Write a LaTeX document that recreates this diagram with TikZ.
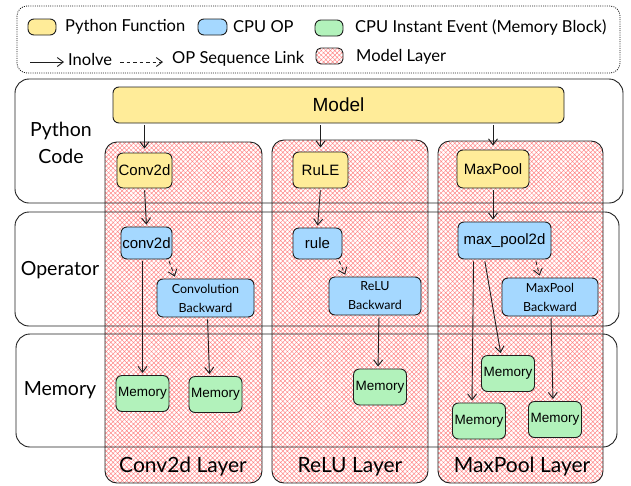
\documentclass[tikz,border=0pt]{standalone}
\usepackage{fontspec}
\setmainfont{Lato}
\newfontfamily\arialfont{Liberation Sans}
\usetikzlibrary{arrows.meta,patterns.meta}

\definecolor{fnyellow}{HTML}{FFEC99}
\definecolor{opblue}{HTML}{A5D8FF}
\definecolor{memgreen}{HTML}{B2F2BB}
\definecolor{hatchred}{HTML}{FF8787}
\definecolor{inkgray}{HTML}{1E1E1E}

\tikzset{
  nodebox/.style={draw=inkgray, line width=0.9pt, rounded corners=6pt, inner sep=0pt, align=center},
  pyfn/.style={nodebox, fill=fnyellow, font=\arialfont\fontsize{15}{16}\selectfont},
  cpuop/.style={nodebox, fill=opblue, font=\arialfont\fontsize{15}{16}\selectfont},
  bwop/.style={nodebox, fill=opblue, font=\fontsize{12.5}{19}\selectfont},
  mem/.style={nodebox, fill=memgreen, font=\arialfont\fontsize{13.5}{14}\selectfont,
    minimum width=53pt, minimum height=36pt},
  lane/.style={draw=inkgray, line width=0.9pt, rounded corners=14pt},
  layercol/.style={draw=inkgray, line width=0.9pt, rounded corners=12pt,
    pattern={Hatch[angle=45,distance=3.2pt,line width=0.5pt]}, pattern color=hatchred},
  lanetext/.style={font=\fontsize{19.5}{27}\selectfont, align=center},
  layertext/.style={font=\fontsize{21}{24}\selectfont},
  legtext/.style={font=\fontsize{16.5}{18}\selectfont, anchor=west, inner sep=0pt},
  call/.style={-{Straight Barb[length=6pt,width=9pt]}, draw=inkgray, line width=0.9pt,
    shorten >=2pt, shorten <=2pt},
  seq/.style={call, dash pattern=on 3.5pt off 3pt},
}

\begin{document}
\begin{tikzpicture}[x=1pt, y=-1pt]
    \useasboundingbox (0,0) rectangle (631,485);

    % Legend
    \draw[draw=inkgray, line width=0.8pt, dash pattern=on 1pt off 1.2pt, rounded corners=10pt]
        (17,6) rectangle (620,73);
    \draw[nodebox, fill=fnyellow] (28,19) rectangle (56,35);
    \node[legtext] (lgfn) at (65,27) {Python Function};
    \draw[nodebox, fill=opblue] (198,19) rectangle (227,35);
    \node[legtext] (lgop) at (233,27) {CPU OP};
    \draw[nodebox, fill=memgreen] (315,20) rectangle (343,36);
    \node[legtext] (lgmem) at (355,28) {CPU Instant Event (Memory Block)};
    \coordinate (lgcallA) at (30,62);
    \coordinate (lgcallB) at (64,62);
    \draw[call, shorten >=0pt, shorten <=0pt] (lgcallA) -- (lgcallB);
    \node[legtext] (lgcall) at (68,59) {Inolve};
    \coordinate (lgseqA) at (120,62);
    \coordinate (lgseqB) at (163,62);
    \draw[seq, shorten >=0pt, shorten <=0pt] (lgseqA) -- (lgseqB);
    \node[legtext] (lgseq) at (172,59) {OP Sequence Link};
    \draw[layercol, rounded corners=5pt] (316,48) rectangle (343,64);
    \node[legtext] (lglayer) at (356,57) {Model Layer};

    % Model layers
    \draw[layercol] (105,142) rectangle (262,483);
    \draw[layercol] (272,140) rectangle (428,483);
    \draw[layercol] (438,141) rectangle (603,483);
    \node[layertext] (convlayer) at (183,467) {Conv2d Layer};
    \node[layertext] (relulayer) at (350,467) {ReLU Layer};
    \node[layertext] (poollayer) at (522,467) {MaxPool Layer};

    % Lanes
    \draw[lane] (15,79) rectangle (623,203);
    \draw[lane] (15,212) rectangle (619,326);
    \draw[lane] (16,334) rectangle (617,447);
    \node[lanetext] (pylabel) at (61,143) {Python\\Code};
    \node[lanetext] (oplabel) at (60,270) {Operator};
    \node[lanetext] (memlabel) at (60,390) {Memory};

    % Python code
    \node[pyfn, font=\arialfont\fontsize{19}{20}\selectfont, minimum width=451pt, minimum height=36pt]
        (model) at (338.5,105) {Model};
    \node[pyfn, minimum width=55pt, minimum height=35pt] (convfn) at (144.5,170.5) {Conv2d};
    \node[pyfn, minimum width=55pt, minimum height=36pt] (relufn) at (320.5,170) {RuLE};
    \node[pyfn, minimum width=72pt, minimum height=38pt] (poolfn) at (493,169) {MaxPool};

    % Operators
    \node[cpuop, minimum width=51pt, minimum height=32pt] (convop) at (146.5,243) {conv2d};
    \node[bwop, minimum width=97pt, minimum height=38pt] (convbw) at (205.5,298) {Convolution\\Backward};
    \node[cpuop, minimum width=49pt, minimum height=31pt] (reluop) at (317.5,243.5) {rule};
    \node[bwop, minimum width=92pt, minimum height=38pt] (relubw) at (375,296) {ReLU\\Backward};
    \node[cpuop, minimum width=93pt, minimum height=37pt] (poolop) at (504.5,240.5) {max\_pool2d};
    \node[bwop, minimum width=96pt, minimum height=38pt] (poolbw) at (550,297) {MaxPool\\Backward};

    % Memory blocks
    \node[mem] (convmemA) at (142.5,393.5) {Memory};
    \node[mem] (convmemB) at (215.5,394.5) {Memory};
    \node[mem] (relumem) at (380,387) {Memory};
    \node[mem] (poolmemA) at (508,373.5) {Memory};
    \node[mem] (poolmemB) at (479,421) {Memory};
    \node[mem] (poolmemC) at (555,419.5) {Memory};

    % Involve links
    \draw[call, shorten >=4pt] (model.south -| convfn.north) -- (convfn.north);
    \draw[call, shorten >=4pt] (model.south -| relufn.north) -- (relufn.north);
    \draw[call, shorten >=4pt] (model.south -| poolfn.north) -- (poolfn.north);
    \draw[call] (convfn.south) -- (convop.north);
    \draw[call] (relufn.south) -- (reluop.north);
    \draw[call] (poolfn.south) -- (poolfn.south |- poolop.north);
    \draw[call] (convop.south -| convmemA.north) -- (convmemA.north);
    \draw[call] ([xshift=2pt]convbw.south) -- ([xshift=-6pt]convmemB.north);
    \draw[call] ([xshift=4pt]relubw.south) -- ([xshift=-2pt]relumem.north);
    \draw[call] ([xshift=16pt]poolop.south west) -- ([xshift=-7pt]poolmemB.north);
    \draw[call] ([xshift=27pt]poolop.south west) -- ([xshift=-7pt]poolmemA.north);
    \draw[call] ([xshift=1pt]poolbw.south) -- ([xshift=-2pt]poolmemC.north);

    % Sequence links
    \draw[seq] ([xshift=-4pt]convop.south east) -- ([xshift=-30pt]convbw.north);
    \draw[seq] ([xshift=-4pt]reluop.south east) -- ([xshift=-29pt]relubw.north);
    \draw[seq] ([xshift=-16pt]poolop.south east) -- ([xshift=-10pt]poolbw.north);
\end{tikzpicture}
\end{document}
